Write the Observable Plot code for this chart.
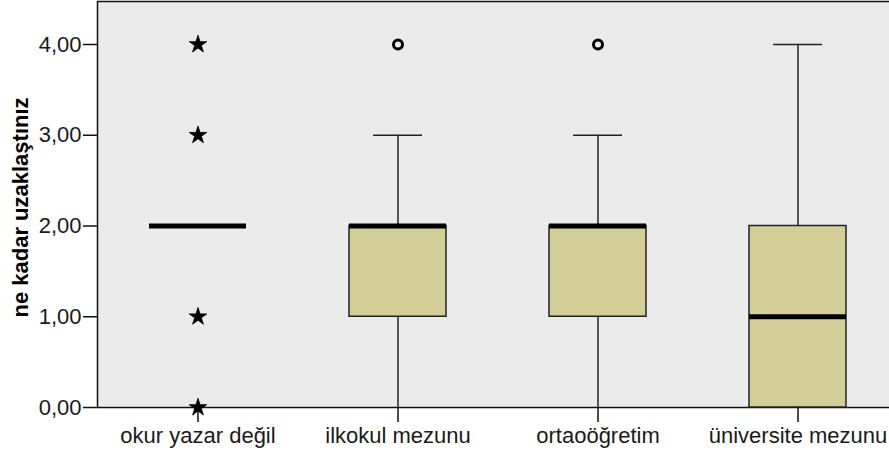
<!DOCTYPE html>
<html>
<head>
<meta charset="utf-8">
<script src="https://cdn.jsdelivr.net/npm/d3@7"></script>
<script src="https://cdn.jsdelivr.net/npm/@observablehq/plot@0.6"></script>
<style>
  html, body { margin: 0; padding: 0; background: #ffffff; }
</style>
</head>
<body>
<div id="chart"></div>
<script>
// ---- data ----
const categories = ["okur yazar değil", "ilkokul mezunu", "ortaoöğretim", "üniversite mezunu"];
const q1         = [2, 1, 1, 0];
const medians    = [2, 2, 2, 1];
const q3         = [2, 2, 2, 2];
const whiskerLow  = [null, 0, 0, 0];
const whiskerHigh = [null, 3, 3, 4];

// outliers: "o" = outlier (circle), "*" = extreme (star)
const outlierCategory = ["okur yazar değil", "okur yazar değil", "okur yazar değil", "okur yazar değil", "ilkokul mezunu", "ortaoöğretim"];
const outlierValue    = [4, 3, 1, 0, 4, 4];
const outlierKind     = ["*", "*", "*", "*", "o", "o"];

const yTicks = [0, 1, 2, 3, 4];
const yTitle = "ne kadar uzaklaştınız";

// ---- tables built from the arrays ----
const boxes = categories.map((c, i) => ({
  cat: c, q1: q1[i], med: medians[i], q3: q3[i], lo: whiskerLow[i], hi: whiskerHigh[i]
}));
const withBox = boxes.filter(d => d.q3 > d.q1);
const withWhisk = boxes.filter(d => d.lo != null);
const outliers = outlierValue.map((v, i) => ({cat: outlierCategory[i], v, kind: outlierKind[i]}));

const fmt = d => d.toFixed(2).replace(".", ",");

const chart = Plot.plot({
  width: 889,
  height: 452,
  marginLeft: 97,
  marginRight: -8,
  marginTop: 1,
  marginBottom: 45,
  style: {fontFamily: "'Liberation Sans', Arial, sans-serif", color: "#1a1a1a", background: "#ffffff", overflow: "visible"},
  x: {type: "band", domain: categories, range: [97, 897], paddingInner: 0.515, paddingOuter: 0.2575, align: 0.5},
  y: {domain: [0, 4], range: [407, 44]},
  marks: [
    Plot.frame({fill: "#ebebeb", stroke: "#111", strokeWidth: 1.5}),
    // whiskers
    Plot.ruleX(withWhisk, {x: "cat", y1: "q3", y2: "hi", stroke: "#222", strokeWidth: 1.5}),
    Plot.ruleX(withWhisk, {x: "cat", y1: "q1", y2: "lo", stroke: "#222", strokeWidth: 1.5}),
    Plot.tickY(withWhisk, {x: "cat", y: "hi", stroke: "#222", strokeWidth: 1.5, insetLeft: 24, insetRight: 24}),
    // boxes
    Plot.barY(withBox, {x: "cat", y1: "q1", y2: "q3", fill: "#d3ce97", stroke: "#222", strokeWidth: 1.5}),
    // medians
    Plot.tickY(boxes, {x: "cat", y: "med", stroke: "#000", strokeWidth: 5}),
    // axes
    Plot.axisY({ticks: yTicks, tickFormat: fmt, tickSize: 14, tickPadding: 2, fontSize: 22, label: null, stroke: "#111", strokeWidth: 1.5}),
    Plot.axisX({tickSize: 15, tickPadding: 5, fontSize: 22, label: null, stroke: "#111", strokeWidth: 1.5}),
    // outliers
    Plot.dot(outliers.filter(d => d.kind === "o"), {x: "cat", y: "v", r: 4.5, stroke: "#000", strokeWidth: 3, fill: "none"}),
    Plot.dot(outliers.filter(d => d.kind === "*"), {x: "cat", y: "v", r: 5.5, symbol: "star", fill: "#000", stroke: "#000", strokeWidth: 0.8}),
    // y title
    Plot.text([yTitle], {frameAnchor: "left", text: d => d, rotate: -90, textAnchor: "middle", dx: -77, dy: 3, fontSize: 22, fontWeight: "bold", fill: "#000"})
  ]
});
document.getElementById("chart").appendChild(chart);
</script>
</body>
</html>
